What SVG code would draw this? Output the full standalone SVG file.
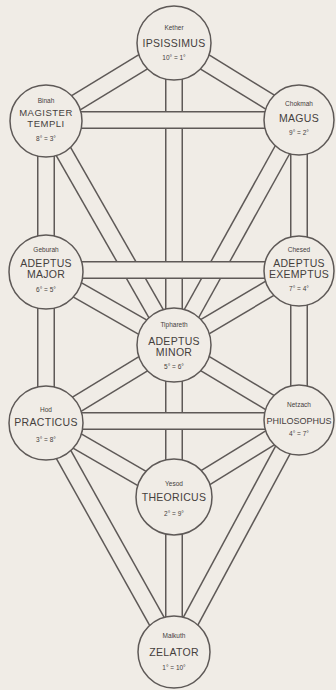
<svg xmlns="http://www.w3.org/2000/svg" width="336" height="690" viewBox="0 0 336 690">
<style>
.bg{fill:#f0ece6}
.o{stroke:#5e5957;stroke-width:18;fill:none}
.i{stroke:#f0ece6;stroke-width:15;fill:none}
.n{fill:#f0ece6;stroke:#5e5957;stroke-width:1.5}
text{font-family:"Liberation Sans",Arial,sans-serif;fill:#45403d;text-anchor:middle}
.s{font-size:6.5px}
.g{font-size:10.5px;letter-spacing:0.3px}
.t{font-size:9.5px;letter-spacing:0.5px}
.p{font-size:9px}
.d{font-size:6.5px}
</style>
<rect class="bg" x="0" y="0" width="336" height="690"/>
<g id="connectors">
<line class="o" x1="174" y1="43" x2="174" y2="345"/><line class="i" x1="174" y1="43" x2="174" y2="345"/>
<line class="o" x1="46" y1="121" x2="174" y2="345"/><line class="i" x1="46" y1="121" x2="174" y2="345"/>
<line class="o" x1="299" y1="120" x2="174" y2="345"/><line class="i" x1="299" y1="120" x2="174" y2="345"/>
<line class="o" x1="174" y1="43" x2="46" y2="121"/><line class="i" x1="174" y1="43" x2="46" y2="121"/>
<line class="o" x1="174" y1="43" x2="299" y2="120"/><line class="i" x1="174" y1="43" x2="299" y2="120"/>
<line class="o" x1="46" y1="121" x2="46" y2="272"/><line class="i" x1="46" y1="121" x2="46" y2="272"/>
<line class="o" x1="299" y1="120" x2="299" y2="271"/><line class="i" x1="299" y1="120" x2="299" y2="271"/>
<line class="o" x1="46" y1="272" x2="174" y2="345"/><line class="i" x1="46" y1="272" x2="174" y2="345"/>
<line class="o" x1="299" y1="271" x2="174" y2="345"/><line class="i" x1="299" y1="271" x2="174" y2="345"/>
<line class="o" x1="46" y1="272" x2="46" y2="423"/><line class="i" x1="46" y1="272" x2="46" y2="423"/>
<line class="o" x1="299" y1="271" x2="299" y2="420"/><line class="i" x1="299" y1="271" x2="299" y2="420"/>
<line class="o" x1="174" y1="345" x2="46" y2="423"/><line class="i" x1="174" y1="345" x2="46" y2="423"/>
<line class="o" x1="174" y1="345" x2="299" y2="420"/><line class="i" x1="174" y1="345" x2="299" y2="420"/>
<line class="o" x1="174" y1="345" x2="174" y2="497"/><line class="i" x1="174" y1="345" x2="174" y2="497"/>
<line class="o" x1="46" y1="423" x2="174" y2="497"/><line class="i" x1="46" y1="423" x2="174" y2="497"/>
<line class="o" x1="299" y1="420" x2="174" y2="497"/><line class="i" x1="299" y1="420" x2="174" y2="497"/>
<line class="o" x1="46" y1="423" x2="174" y2="652"/><line class="i" x1="46" y1="423" x2="174" y2="652"/>
<line class="o" x1="299" y1="420" x2="174" y2="652"/><line class="i" x1="299" y1="420" x2="174" y2="652"/>
<line class="o" x1="174" y1="497" x2="174" y2="652"/><line class="i" x1="174" y1="497" x2="174" y2="652"/>
<line class="o" x1="46" y1="120" x2="299" y2="120"/><line class="i" x1="46" y1="120" x2="299" y2="120"/>
<line class="o" x1="46" y1="270" x2="299" y2="270"/><line class="i" x1="46" y1="270" x2="299" y2="270"/>
<line class="o" x1="46" y1="421" x2="299" y2="421"/><line class="i" x1="46" y1="421" x2="299" y2="421"/>
</g>
<g id="kether"><circle class="n" cx="174" cy="43" r="37"/>
<text class="s" x="174" y="29.5">Kether</text><text class="g" x="174" y="47">IPSISSIMUS</text><text class="d" x="174" y="59.5">10° = 1°</text></g>
<g id="binah"><circle class="n" cx="46" cy="121" r="36"/>
<text class="s" x="46" y="103">Binah</text><text class="t" x="46" y="116">MAGISTER</text><text class="t" x="46" y="126.5">TEMPLI</text><text class="d" x="46" y="141">8° = 3°</text></g>
<g id="chokmah"><circle class="n" cx="299" cy="120" r="35"/>
<text class="s" x="299" y="105.5">Chokmah</text><text class="g" x="299" y="122">MAGUS</text><text class="d" x="299" y="134.5">9° = 2°</text></g>
<g id="geburah"><circle class="n" cx="46" cy="272" r="37"/>
<text class="s" x="46" y="251.5">Geburah</text><text class="g" x="46" y="266.5">ADEPTUS</text><text class="g" x="46" y="277.5">MAJOR</text><text class="d" x="46" y="291.5">6° = 5°</text></g>
<g id="chesed"><circle class="n" cx="299" cy="271" r="35"/>
<text class="s" x="299" y="251.5">Chesed</text><text class="g" x="299" y="266.5">ADEPTUS</text><text class="g" x="299" y="277.5">EXEMPTUS</text><text class="d" x="299" y="291">7° = 4°</text></g>
<g id="tiphareth"><circle class="n" cx="174" cy="345" r="37"/>
<text class="s" x="174" y="326.5">Tiphareth</text><text class="g" x="174" y="344.5">ADEPTUS</text><text class="g" x="174" y="355.5">MINOR</text><text class="d" x="174" y="368.5">5° = 6°</text></g>
<g id="hod"><circle class="n" cx="46" cy="423" r="37"/>
<text class="s" x="46" y="411.5">Hod</text><text class="g" x="46" y="426">PRACTICUS</text><text class="d" x="46" y="442">3° = 8°</text></g>
<g id="netzach"><circle class="n" cx="299" cy="420" r="35"/>
<text class="s" x="299" y="406.5">Netzach</text><text class="p" x="299" y="423.5">PHILOSOPHUS</text><text class="d" x="299" y="435.5">4° = 7°</text></g>
<g id="yesod"><circle class="n" cx="174" cy="497" r="38"/>
<text class="s" x="174" y="485.5">Yesod</text><text class="g" x="174" y="501">THEORICUS</text><text class="d" x="174" y="515.5">2° = 9°</text></g>
<g id="malkuth"><circle class="n" cx="174" cy="652" r="36"/>
<text class="s" x="174" y="637.5">Malkuth</text><text class="g" x="174" y="656">ZELATOR</text><text class="d" x="174" y="669.5">1° = 10°</text></g>
</svg>
